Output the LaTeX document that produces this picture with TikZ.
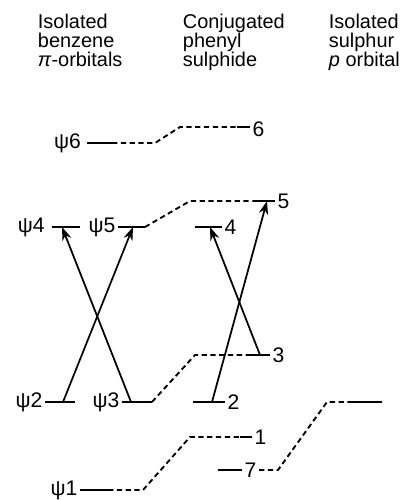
\documentclass[tikz,border=0pt]{standalone}
\usepackage{fontspec}
\setsansfont{Liberation Sans}
\usetikzlibrary{arrows.meta}
\tikzset{
  every picture/.style={font=\sffamily, line width=1.6pt},
  orb/.style={line width=1.8pt},
  corr/.style={dash pattern=on 4.5pt off 3pt, line width=1.6pt},
  excite/.style={-{Stealth[length=4mm, width=2.8mm]}, line width=1.5pt},
  head/.style={font=\sffamily\fontsize{17}{16.2}\selectfont, align=left, anchor=north west, inner sep=0pt},
  tag/.style={font=\sffamily\fontsize{18}{18}\selectfont, inner sep=1.5pt},
}

\begin{document}
\begin{tikzpicture}[x=0.03cm, y=-0.03cm]
  \useasboundingbox (0,0) rectangle (408,500);
  \node[head] (hb) at (37,13) {Isolated\\benzene\\\textit{π}-orbitals};
  \node[head] (hc) at (182,13) {Conjugated\\phenyl\\sulphide};
  \node[head] (hs) at (328,13) {Isolated\\sulphur\\\textit{p} orbital};

  \draw[orb] (87,143) coordinate (b6l) -- (112,143) coordinate (b6r);
  \draw[orb] (237,127) coordinate (c6l) -- (250,127) coordinate (c6r);
  \draw[orb] (52,227) coordinate (b4l) -- (80,227) coordinate (b4r);
  \draw[orb] (118,227) coordinate (b5l) -- (145,227) coordinate (b5r);
  \draw[orb] (255,201) coordinate (c5l) -- (275,201) coordinate (c5r);
  \draw[orb] (195,227) coordinate (c4l) -- (222,227) coordinate (c4r);
  \draw[orb] (248,355) coordinate (c3l) -- (270,355) coordinate (c3r);
  \draw[orb] (45,402) coordinate (b2l) -- (75,402) coordinate (b2r);
  \draw[orb] (122,402) coordinate (b3l) -- (152,402) coordinate (b3r);
  \draw[orb] (193,402) coordinate (c2l) -- (225,402) coordinate (c2r);
  \draw[orb] (240,437) coordinate (c1l) -- (252,437) coordinate (c1r);
  \draw[orb] (80,490) coordinate (b1l) -- (108,490) coordinate (b1r);
  \draw[orb] (218,470) coordinate (c7l) -- (242,470) coordinate (c7r);
  \draw[orb] (350,402) coordinate (spl) -- (382,402) coordinate (spr);

  \node[tag, anchor=east] (lb6) at ([xshift=-3pt]b6l) {ψ6};
  \node[tag, anchor=east] (lb4) at ([xshift=-4pt]b4l) {ψ4};
  \node[tag, anchor=east] (lb5) at (b5l) {ψ5};
  \node[tag, anchor=east] (lb2) at (b2l) {ψ2};
  \node[tag, anchor=east] (lb3) at (b3l) {ψ3};
  \node[tag, anchor=east] (lb1) at (b1l) {ψ1};
  \node[tag, anchor=west] (lc6) at ([yshift=-2pt]c6r) {6};
  \node[tag, anchor=west] (lc5) at (c5r) {5};
  \node[tag, anchor=west] (lc4) at (c4r) {4};
  \node[tag, anchor=west] (lc3) at (c3r) {3};
  \node[tag, anchor=west] (lc2) at (c2r) {2};
  \node[tag, anchor=west] (lc1) at (c1r) {1};
  \node[tag, anchor=west] (lc7) at (c7r) {7};

  \draw[corr] (b6r) -- (155,143) -- (180,127) -- (c6l);
  \draw[corr] (b5r) -- (190,201) -- (c5l);
  \draw[corr] (b3r) -- (195,355) -- (c3l);
  \draw[corr] (b1r) -- (143,490) -- (190,437) -- (c1l);
  \draw[corr] (lc7.east) -- (278,470) -- (327,402) -- (spl);

  \coordinate (x2) at (63,402);  \coordinate (x5) at (133,227);
  \coordinate (x3) at (131,402); \coordinate (x4) at (62,227);
  \coordinate (y3) at (260,355); \coordinate (y4) at (210,227);
  \coordinate (y2) at (212,402); \coordinate (y5) at (267,201);
  \draw[excite] (x2) -- (x5);
  \draw[excite] (x3) -- (x4);
  \draw[excite] (y3) -- (y4);
  \draw[excite] (y2) -- (y5);
\end{tikzpicture}
\end{document}
